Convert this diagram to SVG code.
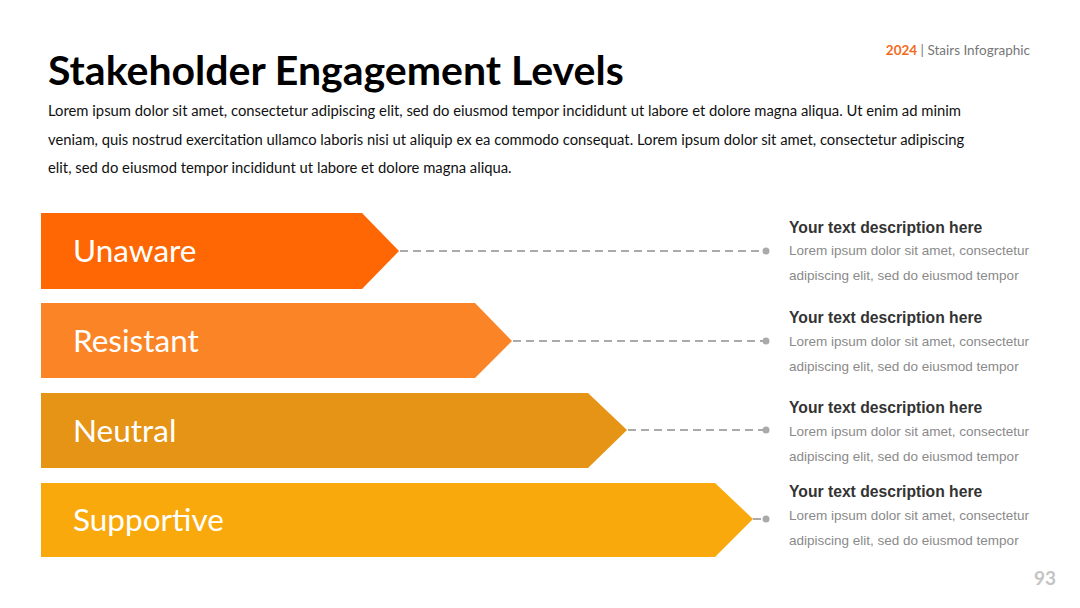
<svg xmlns="http://www.w3.org/2000/svg" width="1080" height="608" viewBox="0 0 1080 608">
<style>
.title{font-family:Lato,"Liberation Sans",sans-serif;font-weight:700;font-size:41px;fill:#000}
.body{font-family:Lato,"Liberation Sans",sans-serif;font-size:14.8px;fill:#111}
.lbl{font-family:Lato,"Liberation Sans",sans-serif;font-size:31.5px;fill:#fff}
.dh{font-family:"Liberation Sans",Arial,sans-serif;font-weight:700;font-size:15.7px;fill:#333}
.dt{font-family:"Liberation Sans",Arial,sans-serif;font-size:13.5px;fill:#8a8a8a}
.conn{stroke:#aaaaaa;stroke-width:2;stroke-dasharray:8 5;fill:none}
.dot{fill:#aaaaaa}
</style>
<rect width="1080" height="608" fill="#fff"/>
<text x="1030" y="55" text-anchor="end" font-family="Lato,'Liberation Sans',sans-serif" font-size="13.5"><tspan fill="#F26B1D" font-weight="700">2024</tspan><tspan fill="#777"> | Stairs Infographic</tspan></text>
<text class="title" x="48" y="85">Stakeholder Engagement Levels</text>
<text class="body" x="48" y="116">Lorem ipsum dolor sit amet, consectetur adipiscing elit, sed do eiusmod tempor incididunt ut labore et dolore magna aliqua. Ut enim ad minim</text>
<text class="body" x="48" y="145">veniam, quis nostrud exercitation ullamco laboris nisi ut aliquip ex ea commodo consequat. Lorem ipsum dolor sit amet, consectetur adipiscing</text>
<text class="body" x="48" y="173">elit, sed do eiusmod tempor incididunt ut labore et dolore magna aliqua.</text>
<g id="connectors">
<line class="conn" x1="400" y1="251" x2="764" y2="251"/><circle class="dot" cx="766" cy="251" r="3.5"/>
<line class="conn" x1="513" y1="341" x2="764" y2="341"/><circle class="dot" cx="766" cy="341" r="3.5"/>
<line class="conn" x1="628" y1="430" x2="764" y2="430"/><circle class="dot" cx="766" cy="430" r="3.5"/>
<line class="conn" x1="753" y1="519" x2="764" y2="519"/><circle class="dot" cx="766" cy="519" r="3.5"/>
</g>
<g id="unaware">
<polygon points="41,213 362,213 399,251 362,289 41,289" fill="#FE6703"/>
<text class="lbl" x="73" y="262">Unaware</text>
</g>
<g id="resistant">
<polygon points="41,303 475,303 512,341 475,378 41,378" fill="#FB8427"/>
<text class="lbl" x="73" y="352">Resistant</text>
</g>
<g id="neutral">
<polygon points="41,393 588,393 627,430 588,468 41,468" fill="#E69416"/>
<text class="lbl" x="73" y="442">Neutral</text>
</g>
<g id="supportive">
<polygon points="41,483 715,483 753,519 715,557 41,557" fill="#F9A90B"/>
<text class="lbl" x="73" y="531">Supportive</text>
</g>
<g id="desc1">
<text class="dh" x="789" y="233">Your text description here</text>
<text class="dt" x="789" y="255">Lorem ipsum dolor sit amet, consectetur</text>
<text class="dt" x="789" y="280">adipiscing elit, sed do eiusmod tempor</text>
</g>
<g id="desc2">
<text class="dh" x="789" y="323">Your text description here</text>
<text class="dt" x="789" y="346">Lorem ipsum dolor sit amet, consectetur</text>
<text class="dt" x="789" y="371">adipiscing elit, sed do eiusmod tempor</text>
</g>
<g id="desc3">
<text class="dh" x="789" y="413">Your text description here</text>
<text class="dt" x="789" y="436">Lorem ipsum dolor sit amet, consectetur</text>
<text class="dt" x="789" y="461">adipiscing elit, sed do eiusmod tempor</text>
</g>
<g id="desc4">
<text class="dh" x="789" y="497">Your text description here</text>
<text class="dt" x="789" y="520">Lorem ipsum dolor sit amet, consectetur</text>
<text class="dt" x="789" y="545">adipiscing elit, sed do eiusmod tempor</text>
</g>
<text x="1056" y="585" text-anchor="end" font-family="Lato,'Liberation Sans',sans-serif" font-size="19" font-weight="700" fill="#c4c4c4">93</text>
</svg>
